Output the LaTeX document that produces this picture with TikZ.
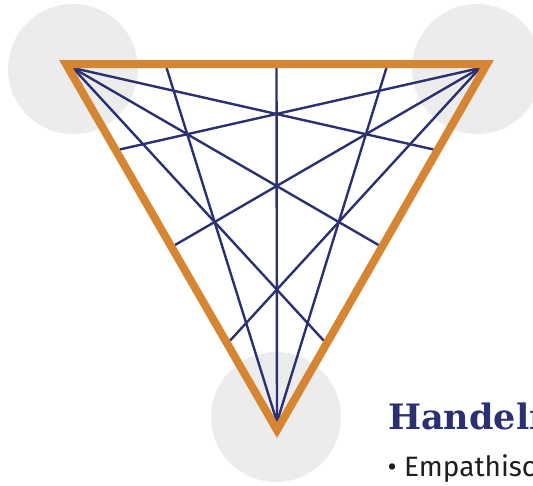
\documentclass[tikz,border=0pt]{standalone}
\usepackage{fontspec}
\setmainfont{DejaVu Serif}
\setsansfont{Fira Sans}
\usetikzlibrary{calc,positioning}
\definecolor{navy}{HTML}{2B3170}
\definecolor{ochre}{HTML}{D68632}
\definecolor{halo}{HTML}{ECECEC}
\definecolor{ink}{HTML}{1E1E1E}

\begin{document}
\begin{tikzpicture}[
    x=1pt, y=-1pt,
    halo/.style={fill=halo, draw=none},
    ray/.style={draw=navy, line width=2.4pt},
    frame/.style={draw=ochre, line width=8pt, line join=miter},
    title/.style={
      font=\fontsize{35}{40}\selectfont\bfseries,
      text=navy,
      anchor=base west,
      inner sep=0pt
    },
    item/.style={
      font=\sffamily\fontsize{28}{30}\selectfont,
      text=ink,
      anchor=base west,
      inner sep=0pt
    }
  ]
    \useasboundingbox (0,0) rectangle (533,485);
    \clip (0,0) rectangle (533,485);

    % corners of the inner triangle and of the frame
    \coordinate (a) at (73,68);
    \coordinate (b) at (480,68);
    \coordinate (c) at (277,422);
    \coordinate (fa) at (66,64);
    \coordinate (fb) at (487,64);
    \coordinate (fc) at (277,430);

    \fill[halo] (73,69) circle[radius=65];
    \fill[halo] (477,69) circle[radius=65];
    \fill[halo] (276,417) circle[radius=65];

    \foreach \v/\p/\q in {a/b/c, b/c/a, c/a/b}
      \foreach \t in {0.23,0.5,0.77}
        \draw[ray] (\v) -- ($(\p)!\t!(\q)$);

    \draw[frame] (fa) -- (fb) -- (fc) -- cycle;

    \node[title] (head) at (388,429) {Handeln};
    \node[item] (emp) at (404,476) {Empathisch};
    \node[item, left=7pt of emp.base west, anchor=base east] (dot) {\textbullet};
  \end{tikzpicture}
\end{document}
